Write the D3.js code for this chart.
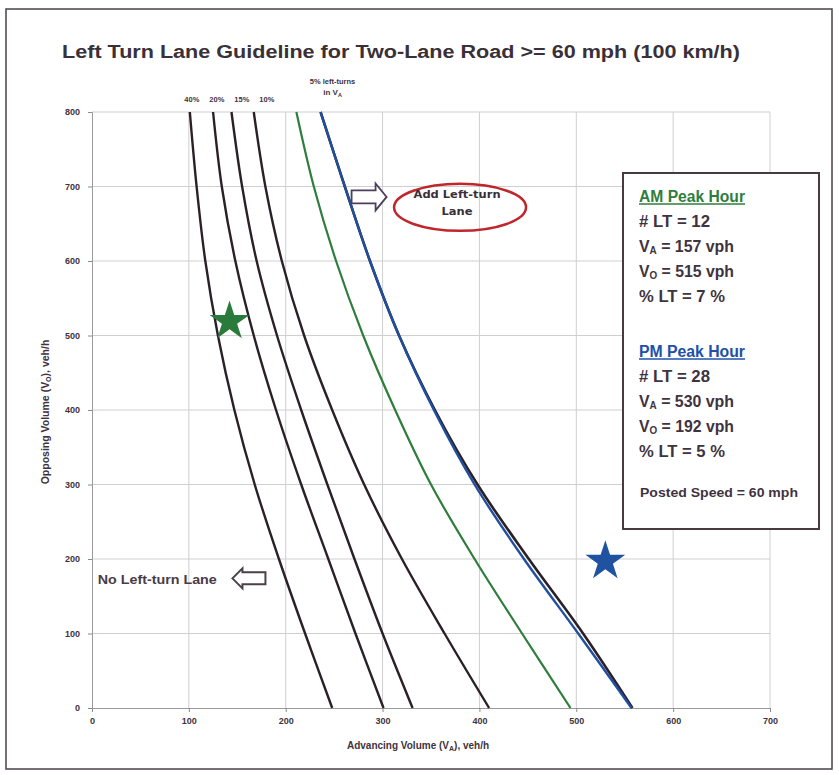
<!DOCTYPE html>
<html><head><meta charset="utf-8">
<script src="https://cdn.jsdelivr.net/npm/d3@7"></script>
<style>body{margin:0;background:#fff}svg{display:block}</style>
</head><body>
<svg id="chart" width="839" height="775"></svg>
<script>
// ---- data ----
const opposingVolume = [800, 700, 600, 500, 400, 300, 200, 100, 0];
const advancing40 = [101, 108, 117, 130, 147, 168, 193, 220, 248];
const advancing20 = [125, 134, 148, 167, 190, 216, 244, 272, 301];
const advancing15 = [144, 155, 170, 191, 216, 243, 271, 300, 331];
const advancing10 = [167, 179, 196, 219, 248, 281, 320, 364, 410];
const advancing5Black = [236, 261, 287, 317, 354, 398, 451, 507, 558];
const advancingGreen = [211, 229, 252, 280, 313, 350, 395, 444, 494];
const advancing5Blue = [236, 261, 287, 317, 353, 395, 446, 502, 557];
const curveLabels = ["40%", "20%", "15%", "10%"];
const starVA = [142, 530];
const starVO = [519, 197];
const xTicks = [0, 100, 200, 300, 400, 500, 600, 700];
const yTicks = [0, 100, 200, 300, 400, 500, 600, 700, 800];
const amLines = ["# LT = 12", ["V", "A", " = 157 vph"], ["V", "O", " = 515 vph"], "% LT = 7 %"];
const pmLines = ["# LT = 28", ["V", "A", " = 530 vph"], ["V", "O", " = 192 vph"], "% LT = 5 %"];

// ---- layout ----
const svg = d3.select("#chart");
const W = 839, H = 775;
const x = d3.scaleLinear().domain([0, 700]).range([92, 770]);
const y = d3.scaleLinear().domain([0, 800]).range([708, 112]);
const txt = "#3f3340";
const sans = "'Liberation Sans', Arial, sans-serif";

svg.append("rect").attr("width", W).attr("height", H).attr("fill", "#fff");
svg.append("rect").attr("x", 6).attr("y", 9).attr("width", 826).attr("height", 760)
  .attr("fill", "none").attr("stroke", "#4a4048").attr("stroke-width", 1.5);

// title
svg.append("text").attr("x", 62).attr("y", 58)
  .attr("font-family", sans).attr("font-weight", "bold")
  .attr("font-size", 18).attr("fill", "#3a3038")
  .attr("textLength", 678).attr("lengthAdjust", "spacingAndGlyphs")
  .text("Left Turn Lane Guideline for Two-Lane Road >= 60 mph (100 km/h)");

// grid
const grid = svg.append("g").attr("stroke", "#cfcfcf").attr("stroke-width", 1);
grid.selectAll(".gx").data(xTicks.slice(1)).join("line")
  .attr("x1", d => x(d)).attr("x2", d => x(d)).attr("y1", y(0)).attr("y2", y(800));
grid.selectAll(".gy").data(yTicks.slice(1)).join("line")
  .attr("x1", x(0)).attr("x2", x(700)).attr("y1", d => y(d)).attr("y2", d => y(d));

// axes
const ax = svg.append("g").attr("transform", `translate(0,${y(0)})`)
  .call(d3.axisBottom(x).tickValues(xTicks).tickSize(4).tickPadding(6).tickFormat(d3.format("d")));
const ay = svg.append("g").attr("transform", `translate(${x(0)},0)`)
  .call(d3.axisLeft(y).tickValues(yTicks).tickSize(4).tickPadding(8).tickFormat(d3.format("d")));
[ax, ay].forEach(g => {
  g.select(".domain").attr("stroke", "#9a9a9a");
  g.selectAll(".tick line").attr("stroke", "#8a8a8a");
  g.selectAll(".tick text").attr("fill", txt).attr("font-size", 9)
    .attr("font-weight", "bold").attr("font-family", sans);
});

// axis titles
const xt = svg.append("text").attr("x", 418).attr("y", 749).attr("text-anchor", "middle")
  .attr("font-family", sans).attr("font-weight", "bold")
  .attr("font-size", 10).attr("fill", txt);
xt.append("tspan").text("Advancing Volume (V");
xt.append("tspan").attr("font-size", 7).attr("dy", 2).text("A");
xt.append("tspan").attr("dy", -2).text("), veh/h");

const yt = svg.append("text").attr("transform", "translate(49,412) rotate(-90)").attr("text-anchor", "middle")
  .attr("font-family", sans).attr("font-weight", "bold")
  .attr("font-size", 10.5).attr("fill", txt);
yt.append("tspan").text("Opposing Volume (V");
yt.append("tspan").attr("font-size", 7).attr("dy", 2).text("O");
yt.append("tspan").attr("dy", -2).text("), veh/h");

// curves
const line = d3.line().x(d => x(d[0])).y(d => y(d[1])).curve(d3.curveCatmullRom.alpha(0.5));
const pts = arr => arr.map((v, i) => [v, opposingVolume[i]]);
const curves = [
  {v: advancing40, c: "#2b2028", w: 2.4},
  {v: advancing20, c: "#2b2028", w: 2.4},
  {v: advancing15, c: "#2b2028", w: 2.4},
  {v: advancing10, c: "#2b2028", w: 2.4},
  {v: advancing5Black, c: "#2b2028", w: 2.6},
  {v: advancingGreen, c: "#2f7d3d", w: 2.2},
  {v: advancing5Blue, c: "#1f4f9e", w: 2.4}
];
svg.append("g").selectAll("path").data(curves).join("path")
  .attr("d", d => line(pts(d.v))).attr("fill", "none")
  .attr("stroke", d => d.c).attr("stroke-width", d => d.w);

// curve labels at top
svg.append("g").selectAll("text").data(curveLabels).join("text")
  .attr("x", (d, i) => x(advancing40[0]) + 2 + i * 25).attr("y", 102).attr("text-anchor", "middle")
  .attr("font-family", sans).attr("font-weight", "bold")
  .attr("font-size", 7.5).attr("fill", txt).text(d => d);
const lbl5x = x(advancing5Blue[0]) + 12;
svg.append("text").attr("x", lbl5x).attr("y", 84).attr("text-anchor", "middle")
  .attr("font-family", sans).attr("font-weight", "bold")
  .attr("font-size", 7.5).attr("fill", txt).text("5% left-turns");
const l2 = svg.append("text").attr("x", lbl5x).attr("y", 95).attr("text-anchor", "middle")
  .attr("font-family", sans).attr("font-weight", "bold")
  .attr("font-size", 8).attr("fill", txt);
l2.append("tspan").text("in V");
l2.append("tspan").attr("font-size", 5.5).attr("dy", 1.5).text("A");

// stars
const starColors = ["#2a7a3c", "#1f52a0"];
svg.append("g").selectAll("path").data(starVA).join("path")
  .attr("d", d3.symbol(d3.symbolStar, 490))
  .attr("transform", (d, i) => `translate(${x(d)},${y(starVO[i])})`)
  .attr("fill", (d, i) => starColors[i]);

// "Add Left-turn Lane" ellipse and arrow
const ec = [x(380), y(672)];
svg.append("ellipse").attr("cx", ec[0]).attr("cy", ec[1]).attr("rx", 66).attr("ry", 23.5)
  .attr("fill", "none").attr("stroke", "#c0272d").attr("stroke-width", 2.5);
[["Add Left-turn", -9, 87], ["Lane", 8, 31]].forEach(([t, dy, tl]) => {
  svg.append("text").attr("x", ec[0] - 3).attr("y", ec[1] + dy).attr("text-anchor", "middle")
    .attr("font-family", "'DejaVu Sans', Verdana, sans-serif").attr("font-size", 11)
    .attr("font-weight", 600)
    .attr("fill", "#3a2f38").attr("textLength", tl).attr("lengthAdjust", "spacingAndGlyphs").text(t);
});
svg.append("path").attr("transform", `translate(${x(268)},${y(686)})`)
  .attr("d", "M0,-6.5H24V-13.5L35,0L24,13.5V6.5H0Z")
  .attr("fill", "#fff").attr("stroke", "#4b3f5c").attr("stroke-width", 1.8);

// "No Left-turn Lane" + arrow
svg.append("text").attr("x", x(6)).attr("y", y(166)).attr("font-family", sans)
  .attr("font-weight", "bold").attr("font-size", 12.5).attr("fill", "#4a3c46")
  .attr("textLength", 119).attr("lengthAdjust", "spacingAndGlyphs").text("No Left-turn Lane");
svg.append("path").attr("transform", `translate(${x(145)},${y(174)})`)
  .attr("d", "M0,0L10,-10V-6H33V6H10V10Z")
  .attr("fill", "#fff").attr("stroke", "#4b3f4a").attr("stroke-width", 2);

// info box
const bx = 623, by = 173;
svg.append("rect").attr("x", bx).attr("y", by).attr("width", 196).attr("height", 356)
  .attr("fill", "#fff").attr("stroke", "#4a3a40").attr("stroke-width", 2);
const ff = "'Liberation Sans Narrow', 'Arial Narrow', 'Liberation Sans', sans-serif";
const bodyWidths = [71, 95, 95, 86];
function header(t, yy, col) {
  svg.append("text").attr("x", 639).attr("y", yy).attr("font-family", ff)
    .attr("font-weight", "bold").attr("font-size", 16).attr("fill", col)
    .attr("textLength", 106).attr("lengthAdjust", "spacingAndGlyphs").text(t);
  svg.append("line").attr("x1", 639).attr("x2", 745).attr("y1", yy + 2).attr("y2", yy + 2)
    .attr("stroke", col).attr("stroke-width", 1.3);
}
function body(lines, y0) {
  lines.forEach((l, i) => {
    const el = svg.append("text").attr("x", 639).attr("y", y0 + i * 25).attr("font-family", ff)
      .attr("font-weight", "bold").attr("font-size", 16).attr("fill", txt)
      .attr("textLength", bodyWidths[i]).attr("lengthAdjust", "spacingAndGlyphs");
    if (typeof l === "string") el.text(l);
    else {
      el.append("tspan").text(l[0]);
      el.append("tspan").attr("font-size", 10).attr("dy", 2).text(l[1]);
      el.append("tspan").attr("dy", -2).text(l[2]);
    }
  });
}
header("AM Peak Hour", 202, "#2f7d3d");
body(amLines, 227);
header("PM Peak Hour", 357, "#2050a8");
body(pmLines, 382);
svg.append("text").attr("x", 640).attr("y", 497).attr("font-family", ff)
  .attr("font-weight", "bold").attr("font-size", 13).attr("fill", txt)
  .attr("textLength", 158).attr("lengthAdjust", "spacingAndGlyphs").text("Posted Speed = 60 mph");
</script>
</body></html>
